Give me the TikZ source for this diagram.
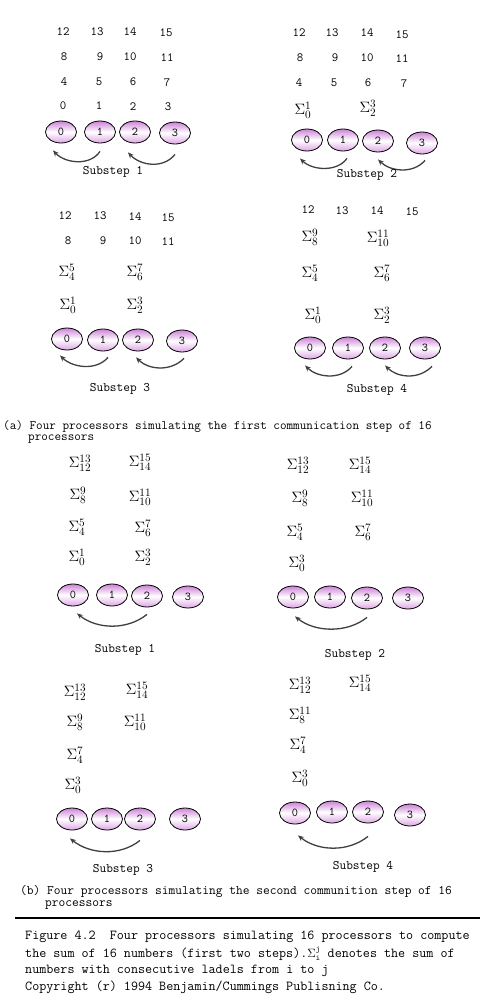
\documentclass[tikz,border=0pt]{standalone}
\usepackage{fix-cm}
\usepackage{fontspec}
\usetikzlibrary{arrows.meta,shapes.geometric}
\renewcommand{\defaultscriptratio}{.75}
\definecolor{proctop}{RGB}{204,130,214}
\definecolor{procbot}{RGB}{222,166,228}
\definecolor{msggray}{RGB}{64,64,64}
\tikzset{
  proc/.style={ellipse, draw=black, line width=0.8pt, minimum width=31pt, minimum height=22pt,
    inner sep=0pt, top color=proctop, bottom color=procbot, middle color=white,
    font=\fontsize{12}{12}\ttfamily},
  num/.style={inner sep=0pt, font=\fontsize{12.5}{13}\ttfamily},
  sig/.style={inner sep=0pt, font=\fontsize{15}{15}\selectfont},
  steplabel/.style={inner sep=0pt, font=\fontsize{13}{13}\ttfamily},
  capline/.style={inner sep=0pt, anchor=west},
  msg/.style={draw=msggray, line width=1.3pt, -{Stealth[length=6pt,width=5pt]}}
}
\newcommand{\sumij}[2]{$\Sigma_{#1}^{#2}$}
\begin{document}
\begin{tikzpicture}[x=1pt, y=-1pt]
  \useasboundingbox[fill=white] (0,0) rectangle (490,1000);

  % (a) substep 1
  \node[num] (a1n12) at (63,32) {12};  \node[num] (a1n13) at (97,32) {13};
  \node[num] (a1n14) at (130,32) {14}; \node[num] (a1n15) at (166,33) {15};
  \node[num] (a1n8) at (64,57) {8};    \node[num] (a1n9) at (100,57) {9};
  \node[num] (a1n10) at (130,57) {10}; \node[num] (a1n11) at (167,58) {11};
  \node[num] (a1n4) at (64,82) {4};    \node[num] (a1n5) at (99,82) {5};
  \node[num] (a1n6) at (133,82) {6};   \node[num] (a1n7) at (167,83) {7};
  \node[num] (a1n0) at (63,106) {0};   \node[num] (a1n1) at (99,106) {1};
  \node[num] (a1n2) at (133,107) {2};  \node[num] (a1n3) at (168,107) {3};
  \node[proc] (a1p0) at (61,132) {0};  \node[proc] (a1p1) at (100,132) {1};
  \node[proc] (a1p2) at (135,132) {2}; \node[proc] (a1p3) at (175,133) {3};
  \draw[msg] ([yshift=-8pt]a1p1.south) .. controls +(-10,15) and +(12,13) .. ([xshift=-8pt,yshift=-7pt]a1p0.south);
  \draw[msg] ([yshift=-10pt]a1p3.south) .. controls +(-12,15) and +(12,13) .. ([xshift=-7pt,yshift=-9pt]a1p2.south);
  \node[steplabel] (a1lbl) at (113,172) {Substep 1};

  % (a) substep 2
  \node[num] (a2n12) at (299,33) {12};  \node[num] (a2n13) at (332,33) {13};
  \node[num] (a2n14) at (367,33) {14};  \node[num] (a2n15) at (402,35) {15};
  \node[num] (a2n8) at (300,58) {8};    \node[num] (a2n9) at (335,58) {9};
  \node[num] (a2n10) at (367,58) {10};  \node[num] (a2n11) at (402,59) {11};
  \node[num] (a2n4) at (299,83) {4};    \node[num] (a2n5) at (334,83) {5};
  \node[num] (a2n6) at (368,83) {6};    \node[num] (a2n7) at (404,84) {7};
  \node[sig] (a2s01) at (303,110) {\sumij{0}{1}};
  \node[sig] (a2s23) at (368,108) {\sumij{2}{3}};
  \node[proc] (a2p0) at (307,140) {0};  \node[proc] (a2p1) at (343,140) {1};
  \node[proc] (a2p2) at (378,141) {2};  \node[proc] (a2p3) at (422,143) {3};
  \draw[msg] ([xshift=4pt,yshift=-7pt]a2p1.south) .. controls +(-10,14) and +(12,12) .. ([xshift=-7pt,yshift=-7pt]a2p0.south);
  \draw[msg] ([xshift=3pt,yshift=-6pt]a2p3.south) .. controls +(-12,14) and +(12,12) .. ([yshift=-7pt]a2p2.south);
  \node[steplabel] (a2lbl) at (367,175) {Substep 2};

  % (a) substep 3
  \node[num] (a3n12) at (65,216) {12};  \node[num] (a3n13) at (100,216) {13};
  \node[num] (a3n14) at (135,217) {14}; \node[num] (a3n15) at (168,218) {15};
  \node[num] (a3n8) at (68,241) {8};    \node[num] (a3n9) at (103,241) {9};
  \node[num] (a3n10) at (135,241) {10}; \node[num] (a3n11) at (168,242) {11};
  \node[sig] (a3s45) at (67,272) {\sumij{4}{5}};
  \node[sig] (a3s67) at (135,272) {\sumij{6}{7}};
  \node[sig] (a3s01) at (68,305) {\sumij{0}{1}};
  \node[sig] (a3s23) at (135,305) {\sumij{2}{3}};
  \node[proc] (a3p0) at (67,339) {0};   \node[proc] (a3p1) at (103,340) {1};
  \node[proc] (a3p2) at (138,340) {2};  \node[proc] (a3p3) at (182,341) {3};
  \draw[msg] ([xshift=5pt,yshift=-6pt]a3p1.south) .. controls +(-12,14) and +(12,12) .. ([xshift=-7pt,yshift=-5pt]a3p0.south);
  \draw[msg] ([xshift=2pt,yshift=-6pt]a3p3.south) .. controls +(-14,14) and +(12,12) .. ([xshift=-2pt,yshift=-6pt]a3p2.south);
  \node[steplabel] (a3lbl) at (120,389) {Substep 3};

  % (a) substep 4
  \node[num] (a4n12) at (308,210) {12}; \node[num] (a4n13) at (342,211) {13};
  \node[num] (a4n14) at (377,211) {14}; \node[num] (a4n15) at (412,212) {15};
  \node[sig] (a4s89) at (310,237) {\sumij{8}{9}};
  \node[sig] (a4s1011) at (378,238) {\sumij{10}{11}};
  \node[sig] (a4s45) at (310,273) {\sumij{4}{5}};
  \node[sig] (a4s67) at (382,273) {\sumij{6}{7}};
  \node[sig] (a4s01) at (313,315) {\sumij{0}{1}};
  \node[sig] (a4s23) at (382,315) {\sumij{2}{3}};
  \node[proc] (a4p0) at (310,348) {0};  \node[proc] (a4p1) at (348,348) {1};
  \node[proc] (a4p2) at (385,348) {2};  \node[proc] (a4p3) at (425,348) {3};
  \draw[msg] ([xshift=4pt,yshift=-7pt]a4p1.south) .. controls +(-12,14) and +(12,12) .. ([xshift=-5pt,yshift=-6pt]a4p0.south);
  \draw[msg] ([xshift=7pt,yshift=-7pt]a4p3.south) .. controls +(-14,14) and +(12,12) .. ([yshift=-6pt]a4p2.south);
  \node[steplabel] (a4lbl) at (377,390) {Substep 4};

  \node[capline, font=\fontsize{12.8}{13}\ttfamily] (capa1) at (3,427) {(a) Four processors simulating the first communication step of 16};
  \node[capline, font=\fontsize{12.8}{13}\ttfamily] (capa2) at (28,439) {processors};

  % (b) substep 1
  \node[sig] (b1s1213) at (80,463) {\sumij{12}{13}};
  \node[sig] (b1s1415) at (140,462) {\sumij{14}{15}};
  \node[sig] (b1s89) at (78,495) {\sumij{8}{9}};
  \node[sig] (b1s1011) at (140,497) {\sumij{10}{11}};
  \node[sig] (b1s45) at (77,527) {\sumij{4}{5}};
  \node[sig] (b1s67) at (143,528) {\sumij{6}{7}};
  \node[sig] (b1s01) at (77,557) {\sumij{0}{1}};
  \node[sig] (b1s23) at (143,557) {\sumij{2}{3}};
  \node[proc] (b1p0) at (73,595) {0};   \node[proc] (b1p1) at (112,595) {1};
  \node[proc] (b1p2) at (147,596) {2};  \node[proc] (b1p3) at (188,597) {3};
  \draw[msg] ([yshift=-7pt]b1p2.south) .. controls +(-20,16) and +(20,16) .. ([xshift=4pt,yshift=-7pt]b1p0.south);
  \node[steplabel] (b1lbl) at (125,650) {Substep 1};

  % (b) substep 2
  \node[sig] (b2s1213) at (298,465) {\sumij{12}{13}};
  \node[sig] (b2s1415) at (360,465) {\sumij{14}{15}};
  \node[sig] (b2s89) at (300,498) {\sumij{8}{9}};
  \node[sig] (b2s1011) at (362,498) {\sumij{10}{11}};
  \node[sig] (b2s45) at (295,532) {\sumij{4}{5}};
  \node[sig] (b2s67) at (363,532) {\sumij{6}{7}};
  \node[sig] (b2s03) at (297,563) {\sumij{0}{3}};
  \node[proc] (b2p0) at (293,597) {0};  \node[proc] (b2p1) at (330,597) {1};
  \node[proc] (b2p2) at (367,598) {2};  \node[proc] (b2p3) at (408,598) {3};
  \draw[msg] ([yshift=-8pt]b2p2.south) .. controls +(-20,16) and +(20,16) .. ([xshift=2pt,yshift=-8pt]b2p0.south);
  \node[steplabel] (b2lbl) at (355,655) {Substep 2};

  % (b) substep 3
  \node[sig] (b3s1213) at (75,692) {\sumij{12}{13}};
  \node[sig] (b3s1415) at (137,690) {\sumij{14}{15}};
  \node[sig] (b3s89) at (75,722) {\sumij{8}{9}};
  \node[sig] (b3s1011) at (135,722) {\sumij{10}{11}};
  \node[sig] (b3s47) at (75,755) {\sumij{4}{7}};
  \node[sig] (b3s03) at (73,785) {\sumij{0}{3}};
  \node[proc] (b3p0) at (72,819) {0};   \node[proc] (b3p1) at (107,819) {1};
  \node[proc] (b3p2) at (140,819) {2};  \node[proc] (b3p3) at (185,819) {3};
  \draw[msg] ([yshift=-10pt]b3p2.south) .. controls +(-20,16) and +(20,16) .. ([xshift=-2pt,yshift=-8pt]b3p0.south);
  \node[steplabel] (b3lbl) at (123,870) {Substep 3};

  % (b) substep 4
  \node[sig] (b4s1213) at (300,685) {\sumij{12}{13}};
  \node[sig] (b4s1415) at (360,683) {\sumij{14}{15}};
  \node[sig] (b4s811) at (300,715) {\sumij{8}{11}};
  \node[sig] (b4s47) at (298,745) {\sumij{4}{7}};
  \node[sig] (b4s03) at (300,778) {\sumij{0}{3}};
  \node[proc] (b4p0) at (295,813) {0};  \node[proc] (b4p1) at (332,812) {1};
  \node[proc] (b4p2) at (368,812) {2};  \node[proc] (b4p3) at (410,815) {3};
  \draw[msg] ([yshift=-13pt]b4p2.south) .. controls +(-20,16) and +(20,16) .. ([xshift=3pt,yshift=-11pt]b4p0.south);
  \node[steplabel] (b4lbl) at (363,867) {Substep 4};

  \node[capline, font=\fontsize{13.1}{13}\ttfamily] (capb1) at (20,891) {(b) Four processors simulating the second communition step of 16};
  \node[capline, font=\fontsize{13.1}{13}\ttfamily] (capb2) at (45,905) {processors};

  % rule and figure caption
  \draw[line width=2.5pt] (15,918) -- (480,918);
  \begin{scope}[every node/.style={capline, font=\fontsize{13.7}{14}\ttfamily}]
    \node (fig1) at (25,937) {Figure 4.2\ \ Four processors simulating 16 processors to compute};
    \node (fig2) at (25,954) {the sum of 16 numbers (first two steps).{\fontsize{12}{12}\selectfont$\Sigma_{\mathtt{i}}^{\mathtt{j}}$} denotes the sum of};
    \node (fig3) at (25,971) {numbers with consecutive ladels from i to j};
    \node (fig4) at (25,987) {Copyright (r) 1994 Benjamin/Cummings Publisning Co.};
  \end{scope}
\end{tikzpicture}
\end{document}
